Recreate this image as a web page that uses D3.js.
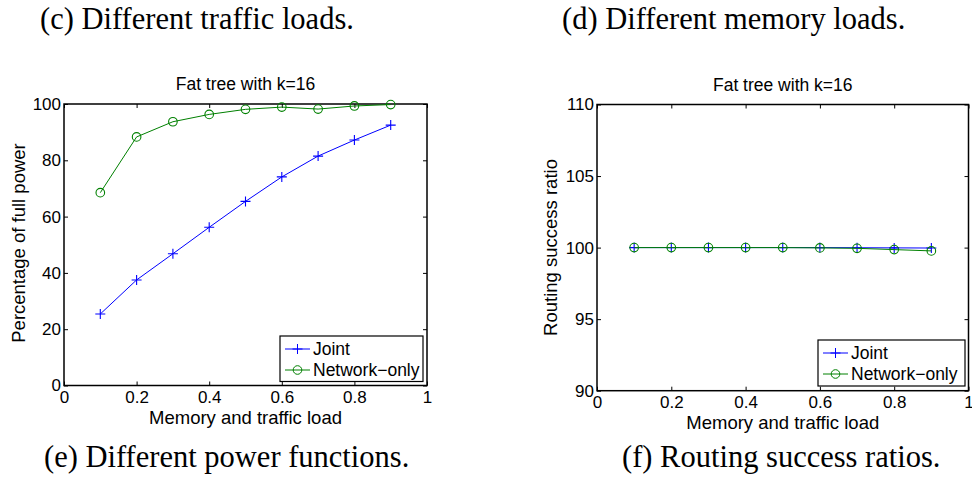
<!DOCTYPE html>
<html><head><meta charset="utf-8">
<script src="https://cdn.jsdelivr.net/npm/d3@7"></script>
<style>body{margin:0;background:#fff}svg{display:block}</style>
</head><body>
<svg id="c" width="972" height="479"></svg>
<script>
const loads = [0.1,0.2,0.3,0.4,0.5,0.6,0.7,0.8,0.9];
const powerJoint = [25.4,37.5,46.8,56.2,65.4,74.1,81.5,87.2,92.5];
const powerNetwork = [68.5,88.3,93.7,96.3,98.1,98.9,98.2,99.3,99.8];
const routeJoint = [100,100,100,100,100,100,99.99,99.98,99.97];
const routeNetwork = [100,100,100,100,100,99.98,99.95,99.86,99.77];
const xTicks = [0,0.2,0.4,0.6,0.8,1];
const powerTicks = [0,20,40,60,80,100];
const routeTicks = [90,95,100,105,110];
const seriesNames = ["Joint","Network\u2212only"];
const captions = ["(c) Different traffic loads.","(d) Different memory loads.","(e) Different power functions.","(f) Routing success ratios."];
const chartTitle = "Fat tree with k=16";
const xLabel = "Memory and traffic load";
const yLabels = ["Percentage of full power","Routing success ratio"];

const svg = d3.select("#c");
const sans = "'Liberation Sans', Arial, sans-serif";
const serif = "'Liberation Serif', 'Times New Roman', serif";
const colors = ["#0000ff","#008000"];

const capPos = [[40,29],[562,29],[44,467],[622,467]];
captions.forEach((t,i)=>{
  svg.append("text").attr("x",capPos[i][0]).attr("y",capPos[i][1])
    .attr("font-family",serif).attr("font-size",30.5).attr("fill","#000").text(t);
});

function panel(opt){
  const x = d3.scaleLinear().domain([0,1]).range([opt.x0,opt.x1]);
  const y = d3.scaleLinear().domain(opt.ydom).range([opt.y1,opt.y0]);
  const g = svg.append("g");
  const tl = 4;
  g.append("text").attr("x",(opt.x0+opt.x1)/2).attr("y",opt.y0-14).attr("text-anchor","middle")
    .attr("font-family",sans).attr("font-size",17.5).text(chartTitle);
  const ax = d3.axisBottom(x).tickValues(xTicks).tickSize(-tl).tickFormat(d=>d===0||d===1?String(d):d3.format(".1f")(d)).tickPadding(0);
  const gb = g.append("g").attr("transform",`translate(0,${opt.y1})`).call(ax);
  const at = d3.axisTop(x).tickValues(xTicks).tickSize(-tl).tickFormat("");
  const gt = g.append("g").attr("transform",`translate(0,${opt.y0})`).call(at);
  const al = d3.axisLeft(y).tickValues(opt.yticks).tickSize(-tl).tickPadding(3);
  const gl = g.append("g").attr("transform",`translate(${opt.x0},0)`).call(al);
  const ar = d3.axisRight(y).tickValues(opt.yticks).tickSize(-tl).tickFormat("");
  const gr = g.append("g").attr("transform",`translate(${opt.x1},0)`).call(ar);
  [gb,gt,gl,gr].forEach(a=>{
    a.select(".domain").remove();
    a.selectAll("line").attr("stroke","#000").attr("stroke-width",1);
    a.selectAll("text").attr("font-family",sans).attr("font-size",17).attr("fill","#000");
  });
  gb.selectAll("text").attr("dy",null).attr("y",17.5);
  g.append("rect").attr("x",opt.x0).attr("y",opt.y0).attr("width",opt.x1-opt.x0).attr("height",opt.y1-opt.y0)
    .attr("fill","none").attr("stroke","#000").attr("stroke-width",1.5);
  g.append("text").attr("x",(opt.x0+opt.x1)/2).attr("y",opt.y1+38.5).attr("text-anchor","middle")
    .attr("font-family",sans).attr("font-size",18.5).text(xLabel);
  g.append("text").attr("transform",`translate(${opt.ylx},${opt.ylc}) rotate(-90)`).attr("text-anchor","middle")
    .attr("font-family",sans).attr("font-size",18.5).text(opt.ylab);
  const line = d3.line().x((d,i)=>x(loads[i])).y(d=>y(d));
  opt.series.forEach((s,si)=>{
    g.append("path").datum(s).attr("d",line).attr("fill","none").attr("stroke",colors[si]).attr("stroke-width",1);
    s.forEach((v,i)=>{
      const px = x(loads[i]), py = y(v);
      if(si===0){
        g.append("path").attr("d",`M${px-5},${py}H${px+5}M${px},${py-5}V${py+5}`).attr("stroke",colors[0]).attr("stroke-width",1.1);
      } else {
        g.append("circle").attr("cx",px).attr("cy",py).attr("r",4.3).attr("fill","none").attr("stroke",colors[1]).attr("stroke-width",1.1);
      }
    });
  });
  const L = opt.leg;
  g.append("rect").attr("x",L[0]).attr("y",L[1]).attr("width",L[2]).attr("height",L[3]).attr("fill","#fff").attr("stroke","#000").attr("stroke-width",1.2);
  seriesNames.forEach((n,i)=>{
    const ly = L[1]+13+i*21;
    const lx0 = L[0]+5, lx1 = L[0]+30, cx=(lx0+lx1)/2;
    g.append("line").attr("x1",lx0).attr("x2",lx1).attr("y1",ly).attr("y2",ly).attr("stroke",colors[i]);
    if(i===0) g.append("path").attr("d",`M${cx-5},${ly}H${cx+5}M${cx},${ly-5}V${ly+5}`).attr("stroke",colors[0]);
    else g.append("circle").attr("cx",cx).attr("cy",ly).attr("r",4.3).attr("fill","none").attr("stroke",colors[1]);
    g.append("text").attr("x",L[0]+33).attr("y",ly+6).attr("font-family",sans).attr("font-size",17.5).text(n);
  });
}

panel({x0:64,x1:427,y0:104,y1:385.5,ydom:[0,100],yticks:powerTicks,series:[powerJoint,powerNetwork],
  ylab:yLabels[0],ylx:25,ylc:243,leg:[280,336,143,45.5]});
panel({x0:597,x1:968.5,y0:104.5,y1:390.7,ydom:[90,110],yticks:routeTicks,series:[routeJoint,routeNetwork],
  ylab:yLabels[1],ylx:557,ylc:247.5,leg:[818,340,147,46]});
</script>
</body></html>
